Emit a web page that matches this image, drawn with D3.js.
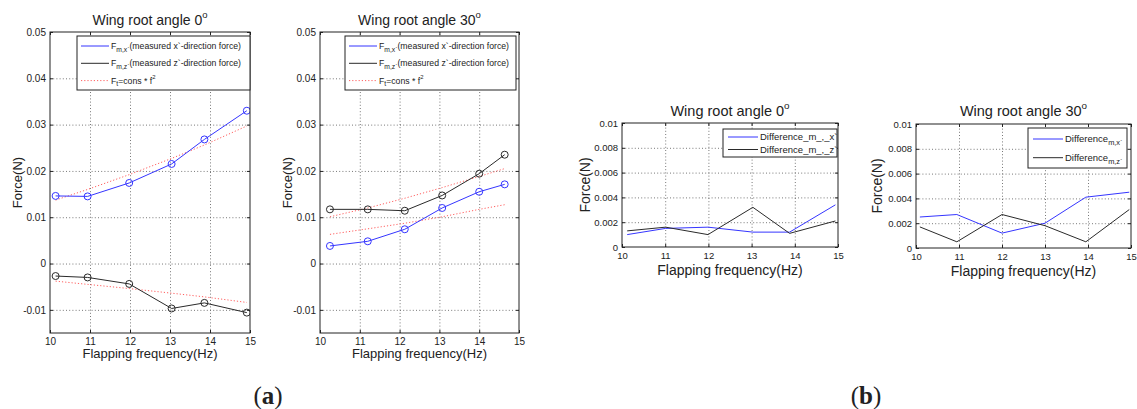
<!DOCTYPE html>
<html>
<head>
<meta charset="utf-8">
<script src="https://d3js.org/d3.v7.min.js"></script>
<style>
body { margin: 0; background: #fff; }
text { font-family: "Liberation Sans", Arial, sans-serif; fill: #222; }
</style>
</head>
<body>
<svg width="1137" height="409"></svg>
<script>
// ---- data ----
const freqTicks = [10, 11, 12, 13, 14, 15];
const forceTicksA = [-0.01, 0, 0.01, 0.02, 0.03, 0.04, 0.05];
const forceTicksB = [0, 0.002, 0.004, 0.006, 0.008, 0.01];

// (a) wing root angle 0
const freqA0 = [10.14, 10.94, 11.98, 13.04, 13.86, 14.92];
const fxA0 = [0.0146, 0.0145, 0.0174, 0.0215, 0.0268, 0.0330];
const fzA0 = [-0.0027, -0.0030, -0.0044, -0.0097, -0.0085, -0.0106];
const fitXA0 = [0.0137, 0.0160, 0.0192, 0.0227, 0.0256, 0.0297];
const fitZA0 = [-0.0038, -0.0045, -0.0054, -0.0064, -0.0072, -0.0084];

// (a) wing root angle 30
const freqA30 = [10.25, 11.2, 12.13, 13.07, 14.0, 14.64];
const fxA30 = [0.0038, 0.0048, 0.0074, 0.0120, 0.0155, 0.0171];
const fzA30 = [0.0117, 0.0117, 0.0114, 0.0147, 0.0194, 0.0235];
const fitZA30 = [0.0101, 0.0120, 0.0141, 0.0164, 0.0188, 0.0205];
const fitXA30 = [0.0063, 0.0075, 0.0087, 0.0101, 0.0117, 0.0127];

// (b) differences
const freqB0 = [10.12, 11.01, 11.99, 13.03, 13.88, 14.94];
const dxB0 = [0.0010, 0.0015, 0.0016, 0.0012, 0.0012, 0.0034];
const dzB0 = [0.0013, 0.0016, 0.0010, 0.0032, 0.0011, 0.0021];
const freqB30 = [10.09, 10.95, 12.0, 13.0, 13.95, 14.96];
const dxB30 = [0.0025, 0.0027, 0.0012, 0.0020, 0.0041, 0.0045];
const dzB30 = [0.0017, 0.0005, 0.0027, 0.0018, 0.0005, 0.0031];

const legendA = ["F_{m,x`}(measured x`-direction force)", "F_{m,z`}(measured z`-direction force)", "F_{t}=cons * f^{2}"];
const legendB0 = ["Difference_m_,_x`", "Difference_m_,_z`"];
const legendB30 = ["Difference_{m,x`}", "Difference_{m,z`}"];

const xLabel = "Flapping frequency(Hz)";
const yLabel = "Force(N)";

// ---- styles ----
const BLUE = "#3535ff", BLACK = "#2a2a2a", RED = "#ff6060";
const sty = {
  blue: {color: BLUE, marker: true},
  black: {color: BLACK, marker: true},
  fit: {color: RED, dash: "1.2,2"},
  blueLine: {color: BLUE},
  blackLine: {color: BLACK}
};

const svg = d3.select("svg");

// tiny TeX-like parser: _{..} and ^{..}
function texText(sel, str, size) {
  const re = /([_^])\{([^}]*)\}/g;
  let parts = [], last = 0, m;
  while ((m = re.exec(str)) !== null) {
    if (m.index > last) parts.push([str.slice(last, m.index), ""]);
    parts.push([m[2], m[1] == "_" ? "sub" : "sup"]);
    last = re.lastIndex;
  }
  if (last < str.length) parts.push([str.slice(last), ""]);
  let shift = 0;
  parts.forEach(p => {
    let target = 0, fs = size;
    if (p[1] == "sub") { target = size * 0.32; fs = size * 0.78; }
    if (p[1] == "sup") { target = -size * 0.5; fs = size * 0.68; }
    sel.append("tspan").attr("dy", target - shift).attr("font-size", fs).text(p[0]);
    shift = target;
  });
}

const fmt = d => String(+d.toFixed(3));

function drawPanel(p) {
  const g = svg.append("g");
  const x = d3.scaleLinear().domain([10, 15]).range([p.left, p.right]);
  const y = d3.scaleLinear().domain(p.yDomain).range([p.bottom, p.top]);
  const h = p.bottom - p.top, w = p.right - p.left;

  g.append("rect").attr("x", p.left).attr("y", p.top).attr("width", w).attr("height", h).attr("fill", "#fff");

  // dotted grid
  const gx = g.append("g").attr("transform", `translate(0,${p.bottom})`)
    .call(d3.axisBottom(x).tickValues(freqTicks.slice(1, -1)).tickSize(-h).tickFormat(""));
  const gy = g.append("g").attr("transform", `translate(${p.left},0)`)
    .call(d3.axisLeft(y).tickValues(p.yTicks.filter(v => y(v) > p.top + 1 && y(v) < p.bottom - 1)).tickSize(-w).tickFormat(""));
  [gx, gy].forEach(s => {
    s.select(".domain").remove();
    s.selectAll("line").attr("stroke", "#555").attr("stroke-width", 0.8).attr("stroke-dasharray", "1,2.2");
  });

  // axes with inward ticks
  const axB = g.append("g").attr("transform", `translate(0,${p.bottom})`)
    .call(d3.axisBottom(x).tickValues(freqTicks).tickSizeInner(-3).tickSizeOuter(0).tickPadding(5).tickFormat(d3.format("d")));
  const axT = g.append("g").attr("transform", `translate(0,${p.top})`)
    .call(d3.axisTop(x).tickValues(freqTicks).tickSizeInner(-3).tickSizeOuter(0).tickFormat(""));
  const axL = g.append("g").attr("transform", `translate(${p.left},0)`)
    .call(d3.axisLeft(y).tickValues(p.yTicks).tickSizeInner(-3).tickSizeOuter(0).tickPadding(4).tickFormat(fmt));
  const axR = g.append("g").attr("transform", `translate(${p.right},0)`)
    .call(d3.axisRight(y).tickValues(p.yTicks).tickSizeInner(-3).tickSizeOuter(0).tickFormat(""));
  [axB, axT, axL, axR].forEach(s => {
    s.select(".domain").remove();
    s.selectAll("line").attr("stroke", "#222");
    s.selectAll("text").attr("font-size", p.tickSize).attr("fill", "#333")
      .style("font-family", '"Liberation Sans", Arial, sans-serif');
  });

  // series
  const clipId = "clip" + p.id;
  g.append("clipPath").attr("id", clipId).append("rect")
    .attr("x", p.left).attr("y", p.top).attr("width", w).attr("height", h);
  const plot = g.append("g").attr("clip-path", `url(#${clipId})`);
  const line = d3.line().x(d => x(d[0])).y(d => y(d[1]));
  p.series.forEach(s => {
    const pts = s.xs.map((v, i) => [v, s.ys[i]]);
    plot.append("path").attr("d", line(pts)).attr("fill", "none")
      .attr("stroke", s.style.color).attr("stroke-width", 1)
      .attr("stroke-dasharray", s.style.dash || null);
    if (s.style.marker) {
      plot.selectAll(null).data(pts).enter().append("circle")
        .attr("cx", d => x(d[0])).attr("cy", d => y(d[1])).attr("r", 3.5)
        .attr("fill", "none").attr("stroke", s.style.color).attr("stroke-width", 1);
    }
  });

  // frame
  g.append("rect").attr("x", p.left).attr("y", p.top).attr("width", w).attr("height", h)
    .attr("fill", "none").attr("stroke", "#222").attr("stroke-width", 1);

  // title and labels
  const t = g.append("text").attr("x", (p.left + p.right) / 2).attr("y", p.titleY)
    .attr("text-anchor", "middle").attr("font-size", p.titleSize);
  texText(t, p.title, p.titleSize);
  g.append("text").attr("x", (p.left + p.right) / 2).attr("y", p.xLabelY)
    .attr("text-anchor", "middle").attr("font-size", p.labelSize).text(xLabel);
  const cy = (p.top + p.bottom) / 2;
  g.append("text").attr("transform", `translate(${p.yLabelX},${cy}) rotate(-90)`)
    .attr("text-anchor", "middle").attr("font-size", p.labelSize).text(yLabel);

  // legend
  const L = p.legend;
  const lg = g.append("g");
  const lclip = "lclip" + p.id;
  lg.append("clipPath").attr("id", lclip).append("rect")
    .attr("x", L.x).attr("y", L.y).attr("width", L.w).attr("height", L.h);
  lg.append("rect").attr("x", L.x).attr("y", L.y).attr("width", L.w).attr("height", L.h)
    .attr("fill", "#fff").attr("stroke", "#222").attr("stroke-width", 1);
  const items = lg.append("g").attr("clip-path", `url(#${lclip})`);
  L.labels.forEach((lab, i) => {
    const ly = L.y + L.first + i * L.step;
    items.append("line").attr("x1", L.x + L.pad).attr("x2", L.x + L.pad + L.lineLen)
      .attr("y1", ly).attr("y2", ly).attr("stroke", L.styles[i].color).attr("stroke-width", 1)
      .attr("stroke-dasharray", L.styles[i].dash || null);
    const tt = items.append("text").attr("x", L.x + L.pad + L.lineLen + 2).attr("y", ly + L.size * 0.35)
      .attr("font-size", L.size);
    texText(tt, lab, L.size);
  });
}

const panels = [
  {id: "a0", left: 50, right: 250, top: 32, bottom: 333, yDomain: [-0.015, 0.05], yTicks: forceTicksA,
   title: "Wing root angle 0^{o}", titleY: 25, titleSize: 14, tickSize: 10, labelSize: 13, xLabelY: 358, yLabelX: 22,
   series: [
     {xs: freqA0, ys: fitXA0, style: sty.fit}, {xs: freqA0, ys: fitZA0, style: sty.fit},
     {xs: freqA0, ys: fxA0, style: sty.blue}, {xs: freqA0, ys: fzA0, style: sty.black}],
   legend: {x: 77, y: 36, w: 173, h: 54, first: 10, step: 17.3, pad: 4, lineLen: 28, size: 8.7,
            labels: legendA, styles: [sty.blue, sty.black, sty.fit]}},
  {id: "a30", left: 320, right: 519, top: 32, bottom: 333, yDomain: [-0.015, 0.05], yTicks: forceTicksA,
   title: "Wing root angle 30^{o}", titleY: 25, titleSize: 14, tickSize: 10, labelSize: 13, xLabelY: 358, yLabelX: 292,
   series: [
     {xs: freqA30, ys: fitZA30, style: sty.fit}, {xs: freqA30, ys: fitXA30, style: sty.fit},
     {xs: freqA30, ys: fxA30, style: sty.blue}, {xs: freqA30, ys: fzA30, style: sty.black}],
   legend: {x: 345, y: 36, w: 171, h: 54, first: 10, step: 17.3, pad: 4, lineLen: 28, size: 8.7,
            labels: legendA, styles: [sty.blue, sty.black, sty.fit]}},
  {id: "b0", left: 622, right: 838, top: 123, bottom: 247, yDomain: [0, 0.01], yTicks: forceTicksB,
   title: "Wing root angle 0^{o}", titleY: 116, titleSize: 14.5, tickSize: 9.5, labelSize: 14, xLabelY: 275, yLabelX: 590,
   series: [{xs: freqB0, ys: dxB0, style: sty.blueLine}, {xs: freqB0, ys: dzB0, style: sty.blackLine}],
   legend: {x: 723, y: 129, w: 114, h: 28, first: 8, step: 12.5, pad: 5, lineLen: 30, size: 9.5,
            labels: legendB0, styles: [sty.blueLine, sty.blackLine]}},
  {id: "b30", left: 916, right: 1131, top: 124, bottom: 248, yDomain: [0, 0.01], yTicks: forceTicksB,
   title: "Wing root angle 30^{o}", titleY: 116, titleSize: 14.5, tickSize: 9.5, labelSize: 14, xLabelY: 276, yLabelX: 882,
   series: [{xs: freqB30, ys: dxB30, style: sty.blueLine}, {xs: freqB30, ys: dzB30, style: sty.blackLine}],
   legend: {x: 1028, y: 128, w: 99, h: 40, first: 11, step: 18.7, pad: 5, lineLen: 30, size: 9.5,
            labels: legendB30, styles: [sty.blueLine, sty.blackLine]}}
];

panels.forEach(drawPanel);

// sub-figure captions
[["a", 268], ["b", 866]].forEach(c => {
  const t = svg.append("text").attr("x", c[1]).attr("y", 404).attr("text-anchor", "middle")
    .style("font-family", '"Liberation Serif", "DejaVu Serif", serif').attr("font-size", 25).attr("fill", "#111");
  t.append("tspan").text("(");
  t.append("tspan").attr("font-weight", "bold").text(c[0]);
  t.append("tspan").text(")");
});
</script>
</body>
</html>
